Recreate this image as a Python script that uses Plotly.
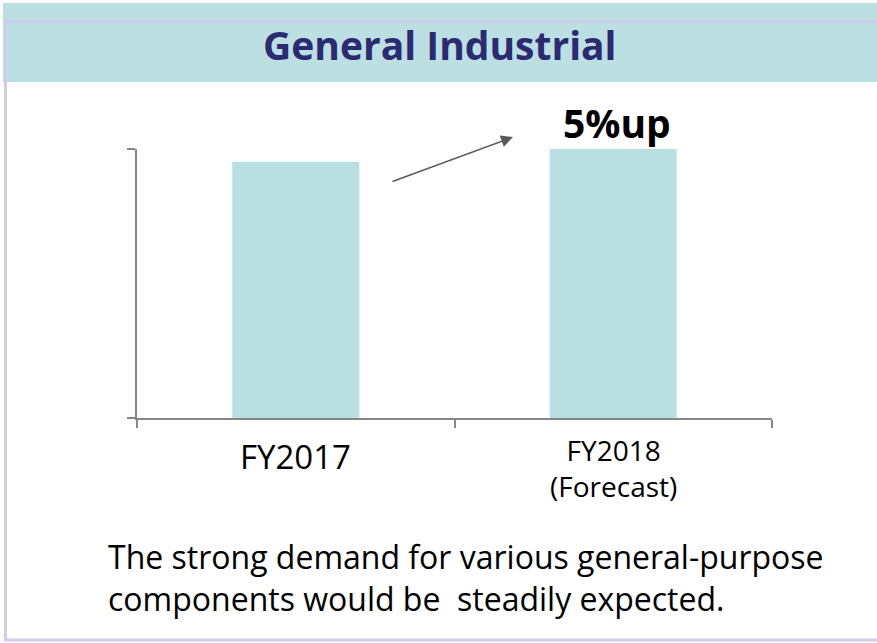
import plotly.graph_objects as go

# data
categories = ["FY2017", "FY2018"]
tick_labels = ["FY2017", "FY2018<br>(Forecast)"]
tick_sizes = [33, 28]
values = [100, 105]
growth_label = "5%up"
title_text = "General Industrial"
note_text = "The strong demand for various general-purpose<br>components would be  steadily expected."

W, H = 877, 643
BAR = "#b9dfe2"
AXIS = "#868686"
FONT = "Open Sans"


def px_x(v):
    return v / W


def px_y(v):
    return 1 - v / H


fig = go.Figure(go.Bar(x=categories, y=values, marker=dict(color=BAR, line_width=0)))

# category labels under the axis (two sizes, as on the slide)
label_y = [456, 468]
tick_annotations = [
    dict(text=t, xref="x", yref="paper", x=c, y=px_y(ly),
         xanchor="center", yanchor="middle", showarrow=False,
         font=dict(size=s, color="black", family=FONT))
    for c, t, s, ly in zip(categories, tick_labels, tick_sizes, label_y)
]

fig.update_layout(
    width=W, height=H,
    margin=dict(l=0, r=0, t=0, b=0),
    paper_bgcolor="white", plot_bgcolor="white",
    bargap=0.6, showlegend=False,
    font=dict(family=FONT, color="black"),
    xaxis=dict(
        domain=[px_x(137), px_x(772)],
        tickson="boundaries", ticks="outside", ticklen=8, tickwidth=2, tickcolor=AXIS,
        showticklabels=False,
        showline=True, linecolor=AXIS, linewidth=2,
        showgrid=False, zeroline=False,
    ),
    yaxis=dict(
        domain=[px_y(418), px_y(149)],
        range=[0, 105], tickvals=[0, 105], showticklabels=False,
        ticks="outside", ticklen=8, tickwidth=2, tickcolor=AXIS,
        showline=True, linecolor=AXIS, linewidth=2,
        showgrid=False, zeroline=False,
    ),
    shapes=[
        # title band
        dict(type="rect", xref="paper", yref="paper", layer="below",
             x0=px_x(3), x1=1.01, y0=px_y(82), y1=px_y(3),
             fillcolor="#bcdfe2", line_width=0),
        # lavender frame
        dict(type="rect", xref="paper", yref="paper", layer="above",
             x0=px_x(5.5), x1=1.05, y0=px_y(640), y1=px_y(21),
             fillcolor="rgba(0,0,0,0)", line=dict(color="#ccceec", width=3)),
    ],
    annotations=tick_annotations + [
        dict(text="<b>" + title_text + "</b>", xref="paper", yref="paper",
             x=px_x(440), y=px_y(45), xanchor="center", yanchor="middle",
             showarrow=False,
             font=dict(size=39, color="#2b2a72", family=FONT)),
        dict(text="<b>" + growth_label + "</b>", xref="x", yref="paper",
             x=categories[1], y=px_y(122), xanchor="center", yanchor="middle",
             xshift=4, showarrow=False,
             font=dict(size=39, color="black", family=FONT)),
        dict(text="", xref="paper", yref="paper", axref="pixel", ayref="pixel",
             x=px_x(513), y=px_y(137), ax=391 - 513, ay=182 - 137,
             showarrow=True, arrowhead=2, arrowsize=1.6, arrowwidth=1.5,
             arrowcolor="#595959"),
        dict(text=note_text, xref="paper", yref="paper",
             x=px_x(106), y=px_y(577), xanchor="left", yanchor="middle",
             align="left", showarrow=False,
             font=dict(size=32, color="black", family=FONT)),
    ],
)

fig.write_html(
    "out.html",
    config={"displayModeBar": False},
    post_script="document.body.style.margin='0';document.body.style.overflow='hidden';",
)
